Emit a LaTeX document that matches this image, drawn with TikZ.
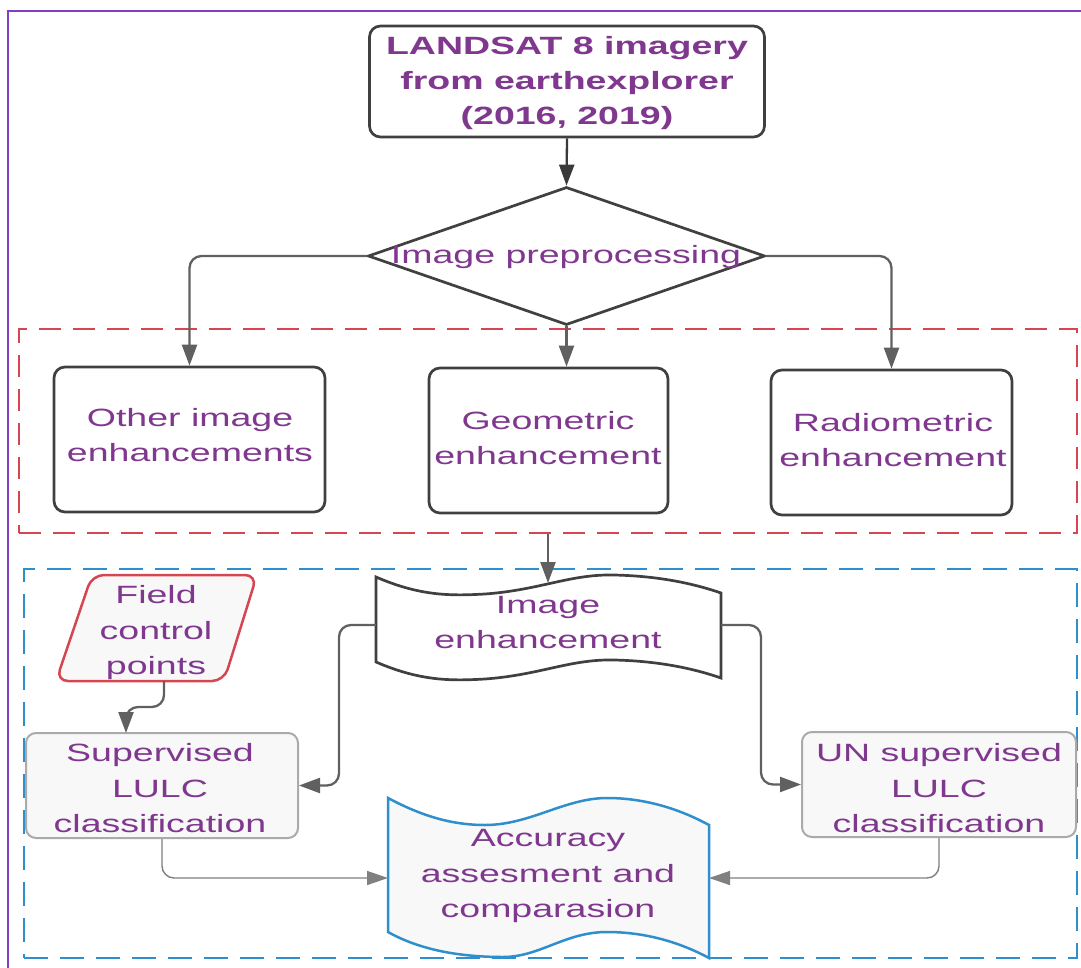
\documentclass[tikz,border=0pt]{standalone}
\usepackage{fontspec}
\setmainfont{Liberation Sans}
\usepackage{graphicx}
\usetikzlibrary{shapes.geometric,arrows.meta,calc}
\definecolor{txtc}{RGB}{128,56,143}
\definecolor{framec}{RGB}{128,64,192}
\definecolor{redc}{RGB}{214,70,82}
\definecolor{bluec}{RGB}{46,143,204}
\definecolor{boxc}{RGB}{64,64,64}
\definecolor{arrc}{RGB}{96,96,96}
\definecolor{lightc}{RGB}{170,170,170}
\definecolor{fillc}{RGB}{248,248,248}
\newcommand{\sx}[1]{\scalebox{1.5}[1]{\begin{tabular}{@{}c@{}}#1\end{tabular}}}
\tikzset{
  mainbox/.style={draw=boxc, line width=2.7pt, rounded corners=11pt, fill=white, inner sep=0pt},
  lightbox/.style={draw=lightc, line width=2pt, rounded corners=10pt, fill=fillc, inner sep=0pt},
  txtnode/.style={inner sep=0pt, text=txtc},
  conn/.style={draw=arrc, line width=2.3pt, rounded corners=12pt, -{Triangle[length=21pt,width=15pt]}},
  thinconn/.style={draw=arrc!80, line width=1.4pt, rounded corners=12pt, -{Triangle[length=21pt,width=14pt]}},
  reddash/.style={draw=redc, line width=2.5pt, dash pattern=on 22pt off 12pt, inner sep=0pt},
  bluedash/.style={draw=bluec, line width=2.5pt, dash pattern=on 24pt off 12pt, inner sep=0pt},
}
\begin{document}
\begin{tikzpicture}[x=1pt,y=-1pt, font=\fontsize{25}{35.5}\selectfont, text=txtc]
\useasboundingbox (0,0) rectangle (1081,968);
% outer frame
\draw[framec, line width=2.5pt] (8,11) rectangle (1110,1000);

% group boxes
\node[reddash, minimum width=1058pt, minimum height=204pt] (redgrp) at (548,431) {};
\node[bluedash, minimum width=1053pt, minimum height=389pt] (bluegrp) at (550.5,763.5) {};

% top box
\node[mainbox, minimum width=395pt, minimum height=111pt] (land) at (567,81.5) {};
\node[txtnode, font=\fontsize{25}{35}\selectfont\bfseries] (landt) at (567,83) {\sx{LANDSAT 8 imagery\\from earthexplorer\\(2016, 2019)}};

% diamond
\node[diamond, draw=boxc, line width=2.7pt, minimum width=397pt, minimum height=138pt, inner sep=0pt, fill=white] (pre) at (566.5,256) {};
\node[txtnode] (pret) at (566,256) {\sx{Image preprocessing}};

% three boxes
\node[mainbox, minimum width=271pt, minimum height=145pt] (other) at (189.5,439.5) {};
\node[txtnode] (othert) at (190,437) {\sx{Other image\\enhancements}};
\node[mainbox, minimum width=239pt, minimum height=145pt] (geo) at (548.5,440.5) {};
\node[txtnode] (geot) at (548,440) {\sx{Geometric\\enhancement}};
\node[mainbox, minimum width=241pt, minimum height=145pt] (radio) at (891.5,442.5) {};
\node[txtnode] (radiot) at (893,442) {\sx{Radiometric\\enhancement}};

% image enhancement tape
\draw[draw=boxc, line width=2.7pt, fill=white]
  (376,577) .. controls (420,596) and (450,596) .. (485,594)
  .. controls (540,590) and (570,574) .. (614,575)
  .. controls (660,576) and (695,584) .. (721,593)
  -- (721,678)
  .. controls (695,669) and (660,661) .. (614,660)
  .. controls (570,659) and (540,675) .. (485,679)
  .. controls (450,681) and (420,681) .. (376,662) -- cycle;
\node[txtnode] (iet) at (548,624) {\sx{Image\\enhancement}};
\coordinate (ieT) at (548,583);
\coordinate (ieL) at (376,625);
\coordinate (ieR) at (721,625);

% field control points parallelogram
\draw[draw=redc, line width=2.5pt, fill=fillc, rounded corners=12pt]
  (92,575) -- (257,575) -- (224,681) -- (56,681) -- cycle;
\node[txtnode] (fcpt) at (156,632) {\sx{Field\\control\\points}};
\coordinate (fcpB) at (164,681);
\coordinate (supIn) at (126,733);

% classification boxes
\node[lightbox, minimum width=272pt, minimum height=105pt] (sup) at (162,785.5) {};
\node[txtnode] (supt) at (160,790) {\sx{Supervised\\LULC\\classification}};
\node[lightbox, minimum width=274pt, minimum height=105pt] (un) at (939,784.5) {};
\node[txtnode] (unt) at (939,790) {\sx{UN supervised\\LULC\\classification}};

% accuracy tape
\draw[draw=bluec, line width=2.5pt, fill=fillc]
  (388,798) .. controls (420,815) and (450,825) .. (485,825)
  .. controls (530,825) and (565,798) .. (607,798)
  .. controls (650,798) and (685,812) .. (709,825)
  -- (709,958)
  .. controls (685,945) and (650,932) .. (607,932)
  .. controls (565,932) and (540,957) .. (503,957)
  .. controls (460,957) and (420,950) .. (388,932) -- cycle;
\node[txtnode] (acct) at (548,875) {\sx{Accuracy\\assesment and\\comparasion}};
\coordinate (accL) at (388,878);
\coordinate (accR) at (709,878);

% connectors
\draw[conn, draw=boxc!90!black] (land.south) -- (pre.north);
\draw[conn] (pre.west) -| (other.north);
\draw[conn] (pre.south) -- (pre.south |- geo.north);
\draw[conn] (pre.east) -| (radio.north);
\draw[conn] (redgrp.south) -- (ieT);
\draw[conn] (fcpB) -- (164,707) -- (126,707) -- (supIn);
\draw[conn] (ieL) -| ($(sup.east)+(40,0)$) -- (sup.east);
\draw[conn] (ieR) -| ($(un.west)+(-40,0)$) -- (un.west);
\draw[thinconn] (sup.south) |- (accL);
\draw[thinconn] (un.south) |- (accR);
\end{tikzpicture}
\end{document}
